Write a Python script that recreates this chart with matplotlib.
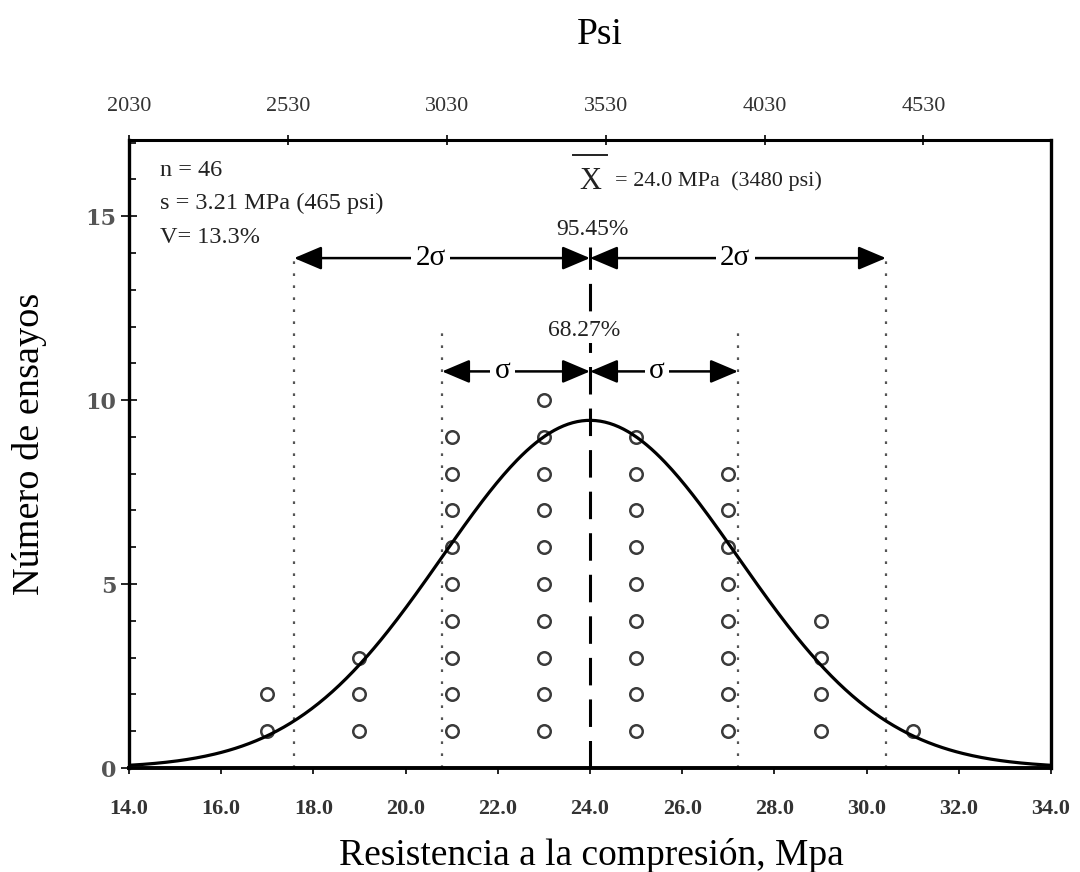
import numpy as np
import matplotlib
matplotlib.use("Agg")
import matplotlib.pyplot as plt
from matplotlib.ticker import MultipleLocator

# ---- data ----
strength_mpa = [17, 17,
                19, 19, 19,
                21, 21, 21, 21, 21, 21, 21, 21, 21,
                23, 23, 23, 23, 23, 23, 23, 23, 23, 23,
                25, 25, 25, 25, 25, 25, 25, 25, 25,
                27, 27, 27, 27, 27, 27, 27, 27,
                29, 29, 29, 29,
                31]
count_level = [1, 2,
               1, 2, 3,
               1, 2, 3, 4, 5, 6, 7, 8, 9,
               1, 2, 3, 4, 5, 6, 7, 8, 9, 10,
               1, 2, 3, 4, 5, 6, 7, 8, 9,
               1, 2, 3, 4, 5, 6, 7, 8,
               1, 2, 3, 4,
               1]
mean_mpa = 24.0
std_mpa = 3.21
curve_peak = 9.45
x_ticks = [14, 16, 18, 20, 22, 24, 26, 28, 30, 32, 34]
x_ticklabels = ["14.0", "16.0", "18.0", "20.0", "22.0", "24.0", "26.0",
                "28.0", "30.0", "32.0", "34.0"]
psi_ticks = [2030, 2530, 3030, 3530, 4030, 4530]
y_ticks = [0, 5, 10, 15]
PSI_PER_MPA = 145.038

serif = ["Liberation Serif", "DejaVu Serif"]
plt.rcParams["font.family"] = serif

fig = plt.figure(figsize=(10.8, 8.72), dpi=100)
ax = fig.add_axes([129/1080, 1-768/872, (1051-129)/1080, (768-140)/872])
ax.set_xlim(14, 34)
ax.set_ylim(0, 17.07)

# normal curve from stated parameters
xc = np.linspace(14, 34, 400)
yc = curve_peak * np.exp(-0.5 * ((xc - mean_mpa) / std_mpa) ** 2)
ax.plot(xc, yc, color="black", lw=2.3, zorder=4, solid_capstyle="round")

# data points
ax.plot(strength_mpa, count_level, linestyle="none", marker="o", ms=9,
        mfc="white", mec="#3a3a3a", mew=1.8, zorder=3)

# sigma lines
dot_kw = dict(color="#555555", lw=1.6, zorder=2)
for k, top in [(-2, 13.95), (2, 13.95), (-1, 11.85), (1, 11.85)]:
    xv = mean_mpa + k * std_mpa
    ln, = ax.plot([xv, xv], [0, top], **dot_kw)
    ln.set_dashes([1.2, 4.2])
mln, = ax.plot([mean_mpa, mean_mpa], [0, 14.15], color="black", lw=2.2, zorder=5)
mln.set_dashes([9.0, 4.6])

# arrows
def darrow(x0, x1, y):
    ax.annotate("", xy=(x1, y), xytext=(x0, y),
                arrowprops=dict(arrowstyle="<|-|>,head_length=0.85,head_width=0.36",
                                color="black", lw=1.8, shrinkA=0, shrinkB=0,
                                mutation_scale=20), zorder=6)

y2 = 13.86
y1 = 10.78
darrow(mean_mpa - 2*std_mpa, mean_mpa, y2)
darrow(mean_mpa, mean_mpa + 2*std_mpa, y2)
darrow(mean_mpa - std_mpa, mean_mpa, y1)
darrow(mean_mpa, mean_mpa + std_mpa, y1)

bb = dict(boxstyle="square,pad=0.15", fc="white", ec="none")
ax.text(20.55, y2, "2σ", ha="center", va="center", fontsize=21, bbox=bb, zorder=7)
ax.text(27.15, y2, "2σ", ha="center", va="center", fontsize=21, bbox=bb, zorder=7)
ax.text(22.1, y1, "σ", ha="center", va="center", fontsize=21, bbox=bb, zorder=7)
ax.text(25.45, y1, "σ", ha="center", va="center", fontsize=21, bbox=bb, zorder=7)

bb2 = dict(boxstyle="square,pad=0.1", fc="white", ec="none")
ax.text(24.05, 14.65, "95.45%", ha="center", va="center", fontsize=17,
        color="#222222", bbox=bb2, zorder=7)
ax.text(23.87, 11.9, "68.27%", ha="center", va="center", fontsize=17,
        color="#222222", bbox=bb2, zorder=7)

# stats annotations
st = dict(ha="left", va="center", fontsize=17.5, color="#222222")
ax.text(14.68, 16.25, "n = 46", **st)
ax.text(14.68, 15.35, "s = 3.21 MPa (465 psi)", **st)
ax.text(14.68, 14.43, "V= 13.3%", **st)
ax.text(24.0, 15.95, "X", ha="center", va="center", fontsize=22, color="#222222")
ax.plot([23.63, 24.37], [16.65, 16.65], color="#222222", lw=1.4)
ax.text(24.55, 15.95, "= 24.0 MPa  (3480 psi)", ha="left", va="center",
        fontsize=16, color="#222222")

# axes styling
for side, w in [("left", 2.4), ("bottom", 2.8), ("top", 2.2), ("right", 2.4)]:
    ax.spines[side].set_linewidth(w)
ax.set_xticks(x_ticks)
ax.set_xticklabels(x_ticklabels)
ax.set_yticks(y_ticks)
ax.yaxis.set_minor_locator(MultipleLocator(1))
ax.tick_params(axis="x", which="major", direction="out", length=4, width=1.2,
               labelsize=16, pad=18, labelcolor="#333333")
ax.tick_params(axis="y", which="major", direction="inout", length=12, width=1.2,
               labelsize=16, pad=3, labelcolor="#555555")
ax.tick_params(axis="y", which="minor", direction="in", length=5, width=1.2)
for lab in ax.get_yticklabels():
    lab.set_family(["DejaVu Serif"])
    lab.set_fontweight("bold")
for lab in ax.get_xticklabels():
    lab.set_fontweight("bold")

top = ax.twiny()
top.set_xlim(ax.get_xlim())
top.set_xticks([p / PSI_PER_MPA for p in psi_ticks])
top.set_xticklabels([str(p) for p in psi_ticks])
top.tick_params(axis="x", direction="inout", length=7, width=1.2,
                labelsize=16, pad=14, labelcolor="#333333")
for s in top.spines.values():
    s.set_visible(False)

fig.text(600/1080, 1-35/872, "Psi", ha="center", va="center", fontsize=27)
fig.text(591/1080, 1-865/872, "Resistencia a la compresión, Mpa", ha="center",
         va="baseline", fontsize=27)
fig.text(30/1080, 1-444/872, "Número de ensayos", ha="center", va="center",
         rotation=90, fontsize=27.5)

fig.savefig("out.png", dpi=100)
